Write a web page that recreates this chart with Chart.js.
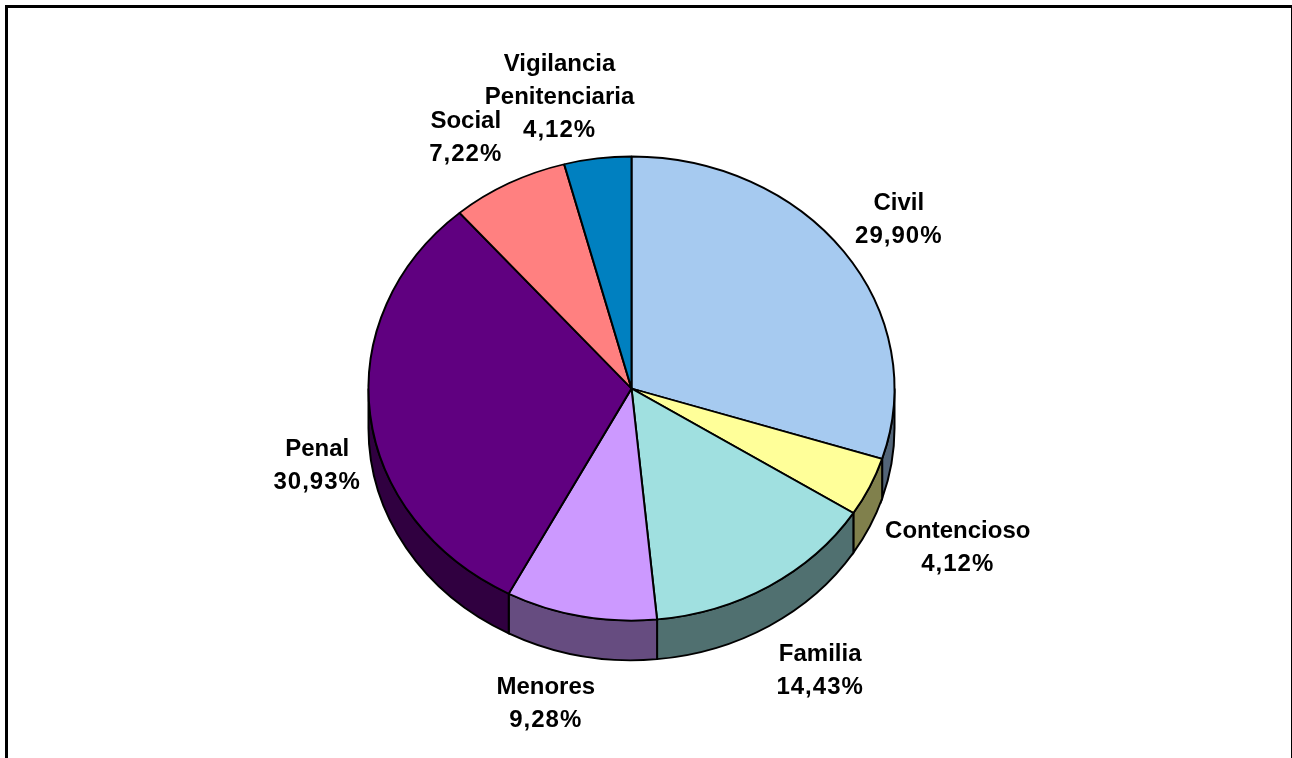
<!DOCTYPE html>
<html>
<head>
<meta charset="utf-8">
<title>Distribución por jurisdicción</title>
<script src="https://cdn.jsdelivr.net/npm/chart.js@4/dist/chart.umd.js"></script>
<style>
    html, body { margin: 0; padding: 0; background: #fff; overflow: hidden; }
    #frame { position: absolute; left: 5px; top: 5px; width: 1283px; height: 800px; border: 3px solid #000; }
    #pie { position: absolute; left: 0; top: 0; }
</style>
</head>
<body>
<div id="frame"></div>
<canvas id="pie" width="1292" height="758"></canvas>
<script>
const categories = ["Civil", "Contencioso", "Familia", "Menores", "Penal", "Social", "Vigilancia\nPenitenciaria"];
const values = [29.90, 4.12, 14.43, 9.28, 30.93, 7.22, 4.12];
const colors = ["#A6CAF0", "#FFFF99", "#A0E0E0", "#CC99FF", "#600080", "#FF8080", "#0080C0"];
const sideColors = ["#536578", "#80804C", "#507070", "#664C80", "#300040", "#804040", "#004060"];
// label centre, relative to the middle of the slice's outer edge
const labelDx = [55, 88, 51, -35, -53, -43, -38];
const labelDy = [-31.5, 61.5, 84.5, 87.5, 51.5, -45.5, -61.5];

const squash = 232 / 263; // tilted pie: the circle is flattened vertically
const depth = 45;

function tilt(ctx, arc) {
    ctx.translate(arc.x, arc.y);
    ctx.scale(1, squash);
    ctx.translate(-arc.x, -arc.y);
}

const pie3d = {
    id: "pie3d",
    beforeDatasetsDraw(chart) {
        const ctx = chart.ctx;
        const arcs = chart.getDatasetMeta(0).data;
        ctx.save();
        tilt(ctx, arcs[0]);
        // side wall, only the part facing the viewer
        arcs.forEach((arc, i) => {
            const from = Math.max(arc.startAngle, 0);
            const to = Math.min(arc.endAngle, Math.PI);
            if (to <= from) return;
            ctx.beginPath();
            ctx.arc(arc.x, arc.y, arc.outerRadius, from, to);
            ctx.arc(arc.x, arc.y + depth, arc.outerRadius, to, from, true);
            ctx.closePath();
            ctx.fillStyle = sideColors[i];
            ctx.fill();
            ctx.lineWidth = 2;
            ctx.strokeStyle = "#000";
            ctx.stroke();
        });
    },
    afterDatasetsDraw(chart) {
        const ctx = chart.ctx;
        ctx.restore();
        ctx.save();
        ctx.font = "bold 24px 'Liberation Sans', Arial, sans-serif";
        ctx.fillStyle = "#000";
        ctx.textAlign = "center";
        ctx.textBaseline = "middle";
        chart.getDatasetMeta(0).data.forEach((arc, i) => {
            const mid = (arc.startAngle + arc.endAngle) / 2;
            const x = arc.x + arc.outerRadius * Math.cos(mid) + labelDx[i];
            const y = arc.y + arc.outerRadius * squash * Math.sin(mid) + labelDy[i];
            const lines = categories[i].split("\n");
            lines.push(values[i].toFixed(2).replace(".", ",") + "%");
            lines.forEach((line, k) => {
                // the percent line is set a bit wider than the names
                ctx.letterSpacing = k === lines.length - 1 ? "1px" : "0px";
                ctx.fillText(line, x, y + (k - (lines.length - 1) / 2) * 33);
            });
        });
        ctx.restore();
    },
};

var char = new Chart(document.getElementById("pie"), {
    type: "pie",
    data: {
        labels: categories,
        datasets: [
            {
                data: values,
                backgroundColor: colors,
                borderColor: "#000",
                borderWidth: 2,
                hoverOffset: 0,
            },
        ],
    },
    options: {
        responsive: false,
        animation: false,
        radius: 263,
        layout: { padding: { top: 19, right: 29 } },
        plugins: {
            legend: { display: false },
            tooltip: { enabled: false },
        },
    },
    plugins: [pie3d],
});
</script>
</body>
</html>
